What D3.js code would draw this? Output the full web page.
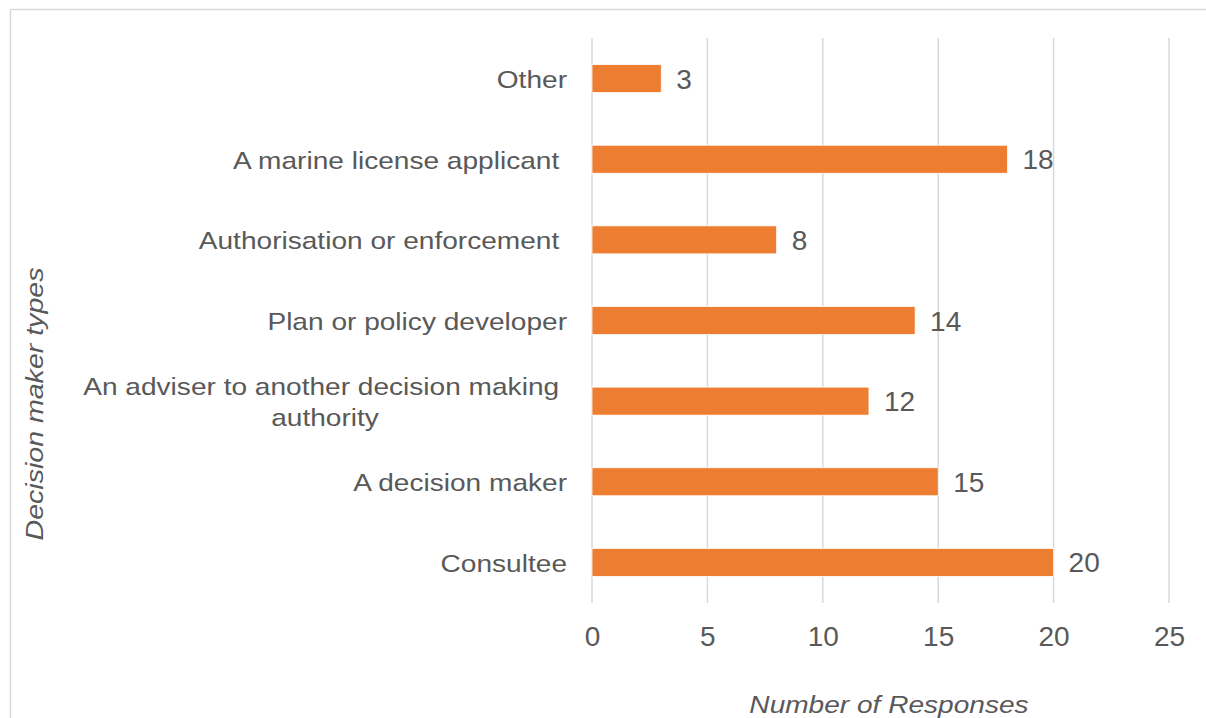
<!DOCTYPE html>
<html>
<head>
<meta charset="utf-8">
<script src="https://cdn.jsdelivr.net/npm/d3@7"></script>
<style>
  html, body { margin: 0; padding: 0; background: #fff; }
  svg { display: block; }
  text { font-family: "Liberation Sans", Arial, sans-serif; fill: #595959; }
</style>
</head>
<body>
<svg id="chart" width="1206" height="718"></svg>
<script>
// Respondent types, top to bottom
const categories = [
  "Other",
  "A marine license applicant ",
  "Authorisation or enforcement ",
  "Plan or policy developer",
  "An adviser to another decision making \nauthority",
  "A decision maker",
  "Consultee"
];
const responses = [3, 18, 8, 14, 12, 15, 20];
const xTicks = [0, 5, 10, 15, 20, 25];
const xTitle = "Number of Responses";
const yTitle = "Decision maker types";

const svg = d3.select("#chart");
const W = 1206, H = 718;
const labelStretch = 1.17;   // wide rendering of the category and axis-title text

// chart frame
svg.append("rect")
  .attr("x", 10.5).attr("y", 9.5)
  .attr("width", W).attr("height", H)
  .attr("fill", "#fff").attr("stroke", "#d9d9d9").attr("stroke-width", 1.5);

const plot = { left: 592, right: 1169, top: 38, bottom: 603 };

const x = d3.scaleLinear().domain([0, 25]).range([plot.left, plot.right]);
const y = d3.scaleBand()
  .domain(categories)
  .range([plot.top, plot.bottom])
  .paddingInner(0.653)
  .paddingOuter(0.33);

// vertical gridlines
svg.append("g")
  .selectAll("line")
  .data(xTicks)
  .join("line")
  .attr("x1", d => x(d)).attr("x2", d => x(d))
  .attr("y1", plot.top).attr("y2", plot.bottom)
  .attr("stroke", "#d9d9d9").attr("stroke-width", 1.5);

// x tick labels
const xAxis = d3.axisBottom(x).tickValues(xTicks).tickSize(0).tickPadding(0);
const gx = svg.append("g")
  .attr("transform", `translate(0, ${plot.bottom})`)
  .call(xAxis);
gx.select(".domain").remove();
gx.selectAll("text")
  .attr("y", 43).attr("dy", 0)
  .style("font-size", "28px").style("fill", "#595959")
  .style("font-family", "'Liberation Sans', Arial, sans-serif");

// bars
svg.append("g")
  .selectAll("rect")
  .data(categories)
  .join("rect")
  .attr("x", x(0))
  .attr("y", d => y(d))
  .attr("width", (d, i) => x(responses[i]) - x(0))
  .attr("height", y.bandwidth())
  .attr("fill", "#ed7d31")
  .attr("stroke", "#fff").attr("stroke-width", 0.75);

// value labels
svg.append("g")
  .selectAll("text")
  .data(categories)
  .join("text")
  .attr("x", (d, i) => x(responses[i]) + 15)
  .attr("y", d => y(d) + y.bandwidth() / 2 + 10)
  .style("font-size", "28px")
  .text((d, i) => responses[i]);

// category labels (multi-line labels are centred within a right-aligned block)
const labelRight = 567;
svg.append("g")
  .selectAll("g")
  .data(categories)
  .join("g")
  .each(function (d) {
    const g = d3.select(this);
    const lines = d.split("\n");
    const cy = y(d) + y.bandwidth() / 2;
    const lh = 31;
    const t = g.append("text")
      .attr("xml:space", "preserve")
      .style("white-space", "pre")
      .style("font-size", "24px");
    if (lines.length === 1) {
      t.attr("text-anchor", "end")
        .attr("transform", `translate(${labelRight}, ${cy + 9.5}) scale(${labelStretch}, 1)`)
        .text(lines[0]);
    } else {
      // measure widest line to centre the lines in the block
      const tmp = g.append("text").style("font-size", "24px")
        .attr("xml:space", "preserve").style("white-space", "pre");
      const widths = lines.map(l => { tmp.text(l); return tmp.node().getComputedTextLength(); });
      tmp.remove();
      const bw = d3.max(widths) * labelStretch;
      const cx = labelRight - bw / 2;
      const y0 = cy + 9.5 - (lines.length - 1) * lh / 2;
      t.attr("text-anchor", "middle")
        .attr("transform", `translate(${cx}, ${y0}) scale(${labelStretch}, 1)`);
      lines.forEach((l, i) => {
        t.append("tspan").attr("x", 0).attr("y", i * lh).text(l);
      });
    }
  });

// axis titles
svg.append("text")
  .attr("transform", `translate(889, 713) scale(${labelStretch}, 1)`)
  .attr("text-anchor", "middle")
  .style("font-size", "24px").style("font-style", "italic")
  .text(xTitle);

svg.append("text")
  .attr("transform", `translate(43, 404) rotate(-90) scale(1.19, 1)`)
  .attr("text-anchor", "middle")
  .style("font-size", "24px").style("font-style", "italic")
  .text(yTitle);
</script>
</body>
</html>
